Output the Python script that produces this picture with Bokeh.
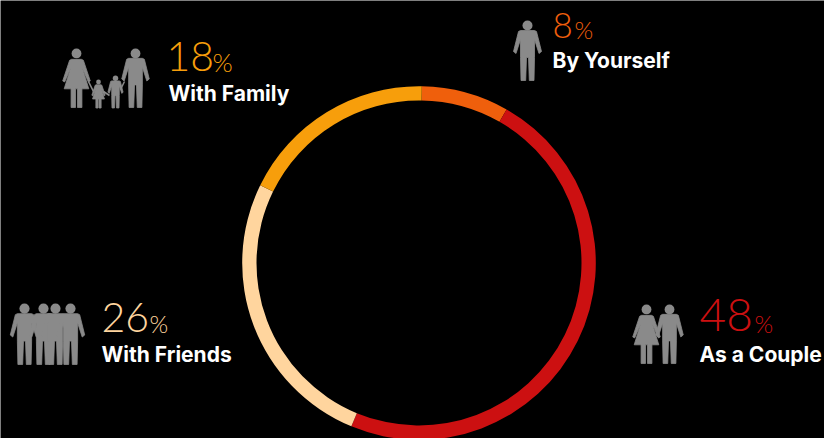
from math import pi, radians
from bokeh.embed import file_html
from bokeh.models import ColumnDataSource, Range1d
from bokeh.plotting import figure
from bokeh.resources import INLINE
from bokeh.core.properties import value

W, H = 824, 438

# Survey shares, clockwise from twelve o'clock
categories = ["By Yourself", "As a Couple", "With Friends", "With Family"]
shares = [8, 48, 26, 18]
colors = ["#EF5F0C", "#CC1011", "#FFD59E", "#F79E0B"]

# Label placement: number x, number baseline, number size, percent x, percent size, label x, label baseline
number_x = [552, 699, 101, 166]
number_y = [39, 333, 333, 72]
number_size = [35, 46, 41, 41]
percent_x = [574, 754, 149, 212]
percent_size = [24, 24, 24, 26]
label_x = [552, 699, 101, 168]
label_y = [68, 362, 362, 101]
LABEL_SIZE = 21

GRAY = "#8A8A8A"
FONT_LIGHT = "Lato Light"
FONT_BOLD = "Inter"
BASELINE_SHIFT = 0.4  # em distance the alphabetic baseline sits below the anchor
RING_TURN = radians(0.9)  # small clockwise turn of the whole ring

# Silhouettes in a 61-unit-tall box: dx from centre, dy from head top
MAN = [(-7, 10), (7, 10), (9, 11), (14, 31), (11.5, 33), (7, 19), (7, 37), (6.5, 60),
       (1.8, 60), (1, 37), (-1, 37), (-1.8, 60), (-6.5, 60), (-7, 37), (-7, 19),
       (-11.5, 33), (-14, 31), (-9, 11)]
WOMAN = [(-5, 11), (5, 11), (7, 12), (14, 33), (12, 34), (6, 20), (12.5, 41), (5.5, 41),
         (5.5, 60), (1, 60), (1, 41), (-1, 41), (-1, 60), (-5.5, 60), (-5.5, 41),
         (-12.5, 41), (-6, 20), (-12, 34), (-14, 33), (-7, 12)]

p = figure(width=W, height=H, output_backend="svg", toolbar_location=None,
           x_range=Range1d(0, W), y_range=Range1d(0, H),
           x_axis_type=None, y_axis_type=None,
           background_fill_color="#000000", border_fill_color="#000000",
           min_border=0, outline_line_color=None)
p.grid.visible = False


def flip(y):
    return H - y


# Ring
total = sum(shares)
starts, ends, running = [], [], 0
for s in shares:
    starts.append(pi / 2 - RING_TURN - 2 * pi * running / total)
    running += s
    ends.append(pi / 2 - RING_TURN - 2 * pi * running / total)
ring = ColumnDataSource(dict(category=categories, start=starts, end=ends, color=colors))
p.annular_wedge(x=418.5, y=flip(262.5), inner_radius=162.5, outer_radius=176.8,
                start_angle="start", end_angle="end", direction="clock",
                fill_color="color", line_color=None, source=ring)


def person(shape, cx, top, height):
    k = height / 61
    p.patch([cx + dx * k for dx, _ in shape], [flip(top + dy * k) for _, dy in shape],
            fill_color=GRAY, line_color=GRAY, line_width=0.8, line_join="round")
    p.circle(x=[cx], y=[flip(top + 5 * k)], radius=5 * k, fill_color=GRAY, line_color=None)


def link(xs, ys):
    p.line(xs, [flip(y) for y in ys], line_color=GRAY, line_width=1.6)


# Icons
person(MAN, 527, 20, 61)

person(WOMAN, 646, 304, 60)
person(MAN, 669, 304, 60)

for cx in (24, 43, 55, 70):
    person(MAN, cx, 303, 62)

person(WOMAN, 76, 48, 60)
person(MAN, 135, 48, 60)
person(WOMAN, 98, 79, 29)
person(MAN, 115, 75, 33)
link([88, 93], [81, 91])
link([103, 109], [91, 95])
link([120, 124], [89, 81])


def anchored(baselines, sizes):
    return [flip(b - BASELINE_SHIFT * s) for b, s in zip(baselines, sizes)]


# Text
p.text(x=number_x, y=anchored(number_y, number_size), text=[str(s) for s in shares],
       text_color=colors, text_font=value(FONT_LIGHT),
       text_font_size=[f"{v}px" for v in number_size], text_baseline="alphabetic")
p.text(x=percent_x, y=anchored(number_y, percent_size), text=["%"] * 4,
       text_color=colors, text_font=value(FONT_LIGHT),
       text_font_size=[f"{v}px" for v in percent_size], text_baseline="alphabetic")
p.text(x=label_x, y=anchored(label_y, [LABEL_SIZE] * 4), text=categories,
       text_color="#FFFFFF", text_font=value(FONT_BOLD), text_font_style="bold",
       text_font_size=f"{LABEL_SIZE}px", text_baseline="alphabetic")

open("out.html", "w").write(file_html(p, INLINE))
